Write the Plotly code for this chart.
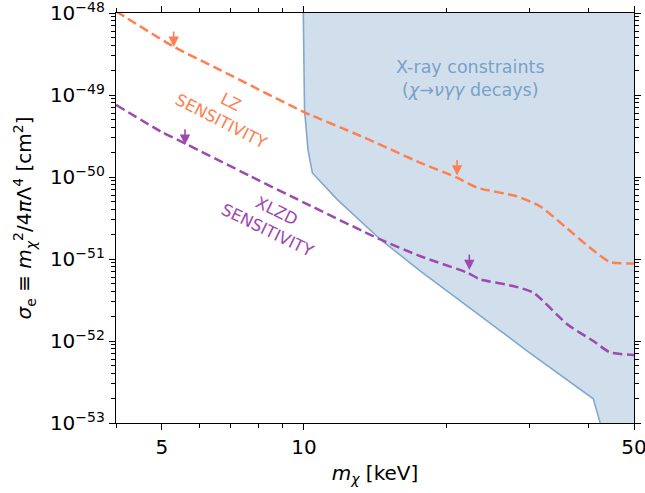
import numpy as np
import plotly.graph_objects as go

# ---------------- data ----------------
X_RANGE = [4.0, 50.0]
Y_RANGE = [1e-53, 1e-48]

lz_mass = [4.0, 5.30, 6.67, 10.0, 13.2, 17.65, 21.1, 23.3, 28.3, 31.6, 35.7, 40.3, 44.5, 49.8, 50.0]
lz_sigma = [1.05e-48, 3.88e-49, 2.0e-49, 6.2e-50, 3.16e-50, 1.49e-50, 9.8e-51, 7.4e-51,
            5.8e-51, 4.4e-51, 2.49e-51, 1.38e-51, 9.2e-52, 8.8e-52, 8.8e-52]

xlzd_mass = [4.0, 4.98, 5.62, 7.71, 10.0, 14.52, 17.65, 22.2, 23.6, 27.7, 30.6, 36.1, 41.0, 44.5, 49.8, 50.0]
xlzd_sigma = [7.6e-50, 3.58e-50, 2.54e-50, 1.02e-50, 4.88e-51, 1.73e-51, 1.08e-51, 6.8e-52,
              5.65e-52, 4.69e-52, 3.90e-52, 1.60e-52, 1.00e-52, 7.26e-53, 6.75e-53, 6.75e-53]

xray_mass = [9.97, 10.03, 10.2, 10.42, 11.77, 14.52, 17.65, 19.45, 22.16, 29.67, 41.0, 42.4]
xray_sigma = [1e-48, 6.57e-50, 2.15e-50, 1.12e-50, 5.3e-51, 1.73e-51, 7.13e-52, 4.69e-52,
              2.68e-52, 7.6e-53, 1.97e-53, 1e-53]

# arrows (tip positions)
lz_arrow_mass = [5.30, 21.1]
lz_arrow_sigma = [3.86e-49, 1.04e-50]
xlzd_arrow_mass = [5.60, 22.4]
xlzd_arrow_sigma = [2.47e-50, 7.33e-52]

# label anchors
lz_label_pos = (6.87, 6.2e-50)
xlzd_label_pos = (8.6, 2.9e-51)
xray_label_pos = (22.5, 1.6e-49)

x_major = [5, 10, 50]
x_major_text = ["5", "10", "50"]
x_minor = [4, 6, 7, 8, 9, 20, 30, 40]
y_decades = [-53, -52, -51, -50, -49, -48]
y_major = [10.0 ** d for d in y_decades]
y_major_text = ["10<sup>\u2212%d</sup>" % (-d) for d in y_decades]
y_minor = [k * 10.0 ** d for d in y_decades[:-1] for k in range(2, 10)]

# ---------------- styles ----------------
ORANGE = "#FF7F50"
PURPLE = "#9D4AAE"
FILL = "#D1DFEC"
BLUE_LINE = "#80A9CF"
BLUE_TEXT = "#79A1C9"
FONT = "DejaVu Sans"
DASH = "9.5px,4.5px"

fig = go.Figure()

# X-ray filled region
poly_x = xray_mass + [X_RANGE[1], X_RANGE[1]]
poly_y = xray_sigma + [Y_RANGE[0], Y_RANGE[1]]
fig.add_trace(go.Scatter(x=poly_x, y=poly_y, fill="toself", fillcolor=FILL,
                         line=dict(width=0), mode="lines", hoverinfo="skip", showlegend=False))
fig.add_trace(go.Scatter(x=xray_mass, y=xray_sigma, mode="lines",
                         line=dict(color=BLUE_LINE, width=1.6), showlegend=False))

fig.add_trace(go.Scatter(x=lz_mass, y=lz_sigma, mode="lines",
                         line=dict(color=ORANGE, width=2.5, dash=DASH, shape="spline", smoothing=0.6),
                         showlegend=False))
fig.add_trace(go.Scatter(x=xlzd_mass, y=xlzd_sigma, mode="lines",
                         line=dict(color=PURPLE, width=2.5, dash=DASH, shape="spline", smoothing=0.6),
                         showlegend=False))

def add_arrows(xs, ys, color):
    for xv, yv in zip(xs, ys):
        fig.add_annotation(x=np.log10(xv), y=np.log10(yv), xref="x", yref="y",
                           text="", showarrow=True, ax=0, ay=-17,
                           arrowhead=2, arrowsize=1.3, arrowwidth=1.6, arrowcolor=color)

add_arrows(lz_arrow_mass, lz_arrow_sigma, ORANGE)
add_arrows(xlzd_arrow_mass, xlzd_arrow_sigma, PURPLE)

fig.add_annotation(x=np.log10(lz_label_pos[0]), y=np.log10(lz_label_pos[1]),
                   text="LZ<br>SENSITIVITY", showarrow=False, textangle=27,
                   font=dict(family=FONT, size=16.5, color=ORANGE))
fig.add_annotation(x=np.log10(xlzd_label_pos[0]), y=np.log10(xlzd_label_pos[1]),
                   text="XLZD<br>SENSITIVITY", showarrow=False, textangle=26,
                   font=dict(family=FONT, size=16.5, color=PURPLE))
fig.add_annotation(x=np.log10(xray_label_pos[0]), y=np.log10(xray_label_pos[1]),
                   text="X-ray constraints<br>(<i>\u03c7</i>\u2192<i>\u03bd\u03b3\u03b3</i> decays)",
                   showarrow=False, font=dict(family=FONT, size=17.5, color=BLUE_TEXT))

axis_common = dict(showline=True, linecolor="black", linewidth=1.2, mirror="allticks",
                   ticks="outside", ticklen=6, tickwidth=1.2, tickcolor="black", automargin=False,
                   ticklabeloverflow="allow",
                   showgrid=False, zeroline=False, tickfont=dict(family=FONT, size=20, color="black"))

fig.update_xaxes(type="log", range=[np.log10(X_RANGE[0]), np.log10(X_RANGE[1])],
                 tickmode="array", tickvals=x_major, ticktext=x_major_text,
                 minor=dict(tickmode="array", tickvals=x_minor, ticks="outside", ticklen=3.5,
                            tickwidth=1, tickcolor="black", showgrid=False),
                 title=dict(text="<i>m</i><sub><i>\u03c7</i></sub> [keV]",
                            font=dict(family=FONT, size=20, color="black"), standoff=7),
                 **axis_common)
fig.update_yaxes(type="log", range=[np.log10(Y_RANGE[0]), np.log10(Y_RANGE[1])],
                 tickmode="array", tickvals=y_major, ticktext=y_major_text,
                 minor=dict(tickmode="array", tickvals=y_minor, ticks="outside", ticklen=3.5,
                            tickwidth=1, tickcolor="black", showgrid=False),
                 title=dict(text="<i>\u03c3</i><sub>e</sub> \u2261 <i>m</i><sub><i>\u03c7</i></sub><sup>2</sup>/4<i>\u03c0</i>\u039b<sup>4</sup> [cm<sup>2</sup>]",
                            font=dict(family=FONT, size=20, color="black"), standoff=12),
                 **axis_common)

fig.update_layout(width=645, height=493, margin=dict(l=116, r=11, t=13, b=70),
                  plot_bgcolor="white", paper_bgcolor="white",
                  font=dict(family=FONT, color="black"))

# remove the default page margin so the figure fills the window exactly
fig.write_html("out.html", config={"displayModeBar": False},
               post_script="document.body.style.margin='0';document.body.style.overflow='hidden';")
